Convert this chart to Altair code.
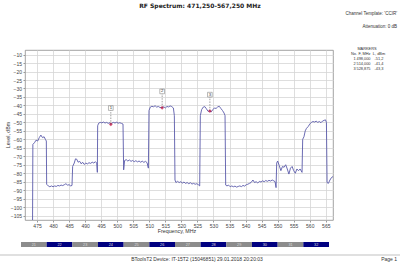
import altair as alt
import pandas as pd

# ---- data ----
freq = [473.6, 473.7, 474.2, 474.7, 475.2, 475.7, 476.2, 476.7, 477.2, 477.6, 477.9,
        478.0, 478.5, 479.0, 479.5, 480.0, 480.5, 481.0, 481.5, 482.0, 482.5, 483.0, 483.5,
        484.0, 484.5, 485.0, 485.5, 485.9,
        486.1, 486.6, 487.0, 487.4, 487.8, 488.3, 488.8, 489.2, 489.7, 490.2, 490.7, 491.2,
        491.7, 492.2, 492.7, 493.2, 493.6, 493.8,
        493.9, 494.2, 494.7, 495.2, 495.7, 496.2, 496.7, 497.2, 497.7, 498.0, 498.3, 498.8,
        499.3, 499.8, 500.3, 500.8, 501.3, 501.8,
        502.0, 502.3, 502.8, 503.3, 503.8, 504.3, 504.8, 505.3, 505.8, 506.3, 506.8, 507.3,
        507.8, 508.3, 508.8, 509.3, 509.7,
        509.9, 510.3, 510.8, 511.3, 511.8, 512.3, 512.8, 513.3, 514.0, 514.5, 515.0, 515.5,
        516.0, 516.5, 517.0, 517.5, 517.8,
        518.0, 518.3, 518.8, 519.3, 519.8, 520.3, 520.8, 521.3, 521.8, 522.3, 522.8, 523.3,
        523.8, 524.3, 524.8, 525.3, 525.7,
        525.9, 526.3, 526.8, 527.3, 527.8, 528.3, 528.875, 529.3, 529.8, 530.3, 530.8, 531.3,
        531.8, 532.3, 532.8, 533.3, 533.6,
        533.8, 534.2, 534.7, 535.2, 535.7, 536.2, 536.7, 537.2, 537.7, 538.2, 538.7, 539.2,
        539.7, 540.2, 540.7, 541.2, 541.7, 542.3, 542.8, 543.3, 543.8, 544.3, 544.8, 545.3,
        545.8, 546.3, 546.8, 547.3, 547.8, 548.3, 548.8, 549.2, 549.5,
        549.7, 550.0, 550.5, 551.0, 551.5, 552.0, 552.5, 553.0, 553.5, 554.0, 554.5, 555.0,
        555.5, 556.0, 556.5, 557.0, 557.6,
        557.8, 558.2, 558.6, 559.0, 559.5, 560.0, 560.5, 561.0, 561.5, 562.0, 562.5, 563.0,
        563.5, 564.0, 564.5, 564.9, 565.2,
        565.4, 565.8, 566.3, 566.8, 567.25]
level = [-110, -63, -62, -60.5, -61, -59, -57.5, -59, -58.5, -60, -61,
         -86.5, -87.5, -88, -87.5, -88, -87.5, -87.8, -87.2, -87.5, -87, -87.3, -86.8,
         -86.2, -87, -86.8, -87.5, -87.2,
         -76, -74, -71.5, -71.8, -73.5, -73, -74.5, -73.5, -74.8, -74, -74.5, -73.8,
         -74.2, -73.5, -74, -73.2, -74, -79.5,
         -52, -50.5, -50, -50.3, -49.8, -50.4, -50, -50.6, -50.2, -51.2, -50.5, -50,
         -50.4, -49.9, -50.5, -50.2, -50.6, -51,
         -78, -72.5, -72, -72.8, -72.2, -73, -72.5, -73.2, -72.6, -73.3, -72.8, -73.5,
         -72.9, -73.6, -73, -73.8, -77,
         -43, -41, -40.5, -40.8, -40.2, -41, -40.6, -41.2, -41.4, -40.8, -41.5, -40.6,
         -40.9, -40.3, -40.7, -41.5, -46,
         -84, -85.5, -84.8, -85.5, -85, -85.8, -85.2, -86, -85.5, -86.2, -85.6, -86.4,
         -86, -86.5, -86.2, -86.8, -87.5,
         -46, -42.5, -41, -40.7, -42, -43.5, -43.3, -43.8, -42.5, -41.5, -41.8, -40.9,
         -40.5, -41.8, -43, -44.5, -46,
         -87, -87.5, -87, -88, -87.5, -88, -87.6, -88.2, -87.8, -87.5, -87.9, -87.2,
         -87.6, -86.8, -86.5, -86, -85.5, -84, -85.5, -85, -85.8, -84.8, -85.2, -84.5,
         -85, -84.3, -84.8, -84.2, -84.6, -84, -84.5, -85, -88.5,
         -74, -72.8, -75.5, -78.5, -76, -76.5, -75, -77.5, -80.5, -77, -76, -78.5,
         -80, -77.5, -78.5, -77.5, -79.5,
         -60, -58.5, -55, -53.5, -52.5, -51, -50, -49.5, -49.8, -49.3, -50, -49.5,
         -50.2, -49.2, -48.8, -48.5, -50,
         -85.5, -86, -84, -82.5, -82]

marker_no = [1, 2, 3]
marker_freq = [498.000, 514.000, 528.875]
marker_level = [-51.2, -41.4, -43.3]

channels = [21, 22, 23, 24, 25, 26, 27, 28, 29, 30, 31, 32]
ch_start = [470, 478, 486, 494, 502, 510, 518, 526, 534, 542, 550, 558]
ch_end = [478, 486, 494, 502, 510, 518, 526, 534, 542, 550, 558, 566]

x_ticks = [475, 480, 485, 490, 495, 500, 505, 510, 515, 520, 525, 530, 535, 540,
           545, 550, 555, 560, 565]
y_ticks = [-10, -15, -20, -25, -30, -35, -40, -45, -50, -55, -60, -65, -70, -75,
           -80, -85, -90, -95, -100, -105]

title_text = "RF Spectrum:  471,250-567,250 MHz"
template_text = "Channel Template: 'CCIR'"
atten_text = "Attenuation: 0 dB"
footer_text = "BToolsT2    Device: IT-15T2 (15046851)    29.01.2018 20:20:03"
page_text = "Page 1"
x_title = "Frequency, MHz"
y_title = "Level, dBm"

FONT = "DejaVu Sans"
SMALL = "Liberation Sans"
W, H = 308, 170

spec = pd.DataFrame({"f": freq, "l": level})
mk = pd.DataFrame({"no": marker_no, "f": marker_freq, "l": marker_level})
mk["fs"] = [f"{v:.3f}".replace(".", ",") for v in marker_freq]
mk["ls"] = [f"{v:.1f}".replace(".", ",") for v in marker_level]
mk["ns"] = [str(n) for n in marker_no]
ch = pd.DataFrame({"ch": channels, "s": ch_start, "e": ch_end})

xs = alt.Scale(domain=[471.25, 567.25], nice=False, zero=False)
ys = alt.Scale(domain=[-107.6, -7.3], nice=False, zero=False)

common = dict(grid=True, gridColor="#d6d6d6", gridWidth=0.8, domain=False,
              tickColor="#999", tickSize=2, labelFontSize=5, labelFont=SMALL,
              labelColor="#444", labelPadding=1.5, labelOverlap=False, labelFlush=False,
              title=None)
xax = alt.Axis(values=x_ticks, tickCount=len(x_ticks), **common)
yax = alt.Axis(values=y_ticks, tickCount=len(y_ticks), **common)

line = alt.Chart(spec).mark_line(color="#5a5aaa", strokeWidth=0.9, clip=True).encode(
    x=alt.X("f:Q", scale=xs, axis=xax),
    y=alt.Y("l:Q", scale=ys, axis=yax),
)

mbase = alt.Chart(mk).transform_calculate(top="datum.l + 8.3")
mrule = mbase.mark_rule(color="#777", strokeDash=[1.5, 1.2], strokeWidth=0.7).encode(
    x="f:Q", y="l:Q", y2="top:Q")
mbox = mbase.mark_point(shape="square", filled=False, stroke="#888", fill=None, size=22,
                        strokeWidth=0.6, opacity=1).encode(
    x="f:Q", y="top:Q", yOffset=alt.value(-2.3))
mlab = mbase.mark_text(font=SMALL, fontSize=4.2, color="#333", baseline="middle").encode(
    x="f:Q", y="top:Q", yOffset=alt.value(-2.3), text="ns:N")
mdot = mbase.mark_point(shape="diamond", filled=True, color="#c4103c", size=14).encode(
    x="f:Q", y="l:Q")

band = alt.Chart(ch).mark_rect().encode(
    x=alt.X("s:Q"), x2="e:Q", y=alt.value(192), y2=alt.value(197),
    color=alt.condition(alt.datum.ch % 2 == 0, alt.value("#000080"), alt.value("#8c8c8c")),
)
band_lab = alt.Chart(ch).transform_calculate(c="(datum.s + datum.e) / 2").mark_text(
    font=SMALL, fontSize=3.8, color="#dddddd", baseline="middle").encode(
    x="c:Q", y=alt.value(194.5), text="ch:N")

def txt(t, x, y, size=5.0, align="center", weight="normal", color="#333", font=SMALL,
        angle=0):
    return alt.Chart(pd.DataFrame({"t": [t]})).mark_text(
        font=font, fontSize=size, align=align, fontWeight=weight, color=color,
        baseline="middle", angle=angle).encode(text="t:N", x=alt.value(x), y=alt.value(y))

title = txt(title_text, 175, -44.5, size=6.0, weight="bold", color="#222", font=FONT)
tmpl = txt(template_text, 372, -36, size=4.5, align="right")
att = txt(atten_text, 372, -23.5, size=4.5, align="right")
xt = txt(x_title, 152, 181, size=5.3)
yt = txt(y_title, -17, 85, size=5.3, angle=270)
mtitle = txt("MARKERS", 342, -1, size=3.9)
mhead_no = txt("No.", 329, 4.3, size=3.9)
mhead_f = txt("F, MHz", 339.5, 4.3, size=3.9)
mhead_l = txt("L, dBm", 354, 4.3, size=3.9)

rows = alt.Chart(mk).transform_calculate(
    yy="9.3 + (datum.no - 1) * 4.7").mark_text(font=SMALL, fontSize=3.9, color="#333",
                                               baseline="middle")
row_no = rows.encode(text="ns:N", x=alt.value(329.5), y=alt.value(0),
                     yOffset=alt.YOffset("yy:Q", scale=None))
row_f = rows.encode(text="fs:N", x=alt.value(338.5), y=alt.value(0),
                    yOffset=alt.YOffset("yy:Q", scale=None))
row_l = rows.encode(text="ls:N", x=alt.value(354), y=alt.value(0),
                    yOffset=alt.YOffset("yy:Q", scale=None))

foot_rule = alt.Chart(pd.DataFrame({"a": [0]})).mark_rule(color="#999", strokeWidth=0.6).encode(
    x=alt.value(-25), x2=alt.value(375), y=alt.value(205))
foot = txt(footer_text, 172, 209, size=5.0)
page = txt(page_text, 372, 209, size=5.0, align="right")

chart = alt.layer(
    line, mrule, mbox, mlab, mdot, band, band_lab,
    title, tmpl, att, xt, yt, mtitle, mhead_no, mhead_f, mhead_l, row_no, row_f, row_l,
    foot_rule, foot, page,
).properties(
    width=W, height=H,
    autosize=alt.AutoSizeParams(type="none"),
    padding={"left": 25, "top": 50, "right": 67, "bottom": 43},
    background="white",
).configure_view(stroke="#8a8a8a", strokeWidth=0.8)

chart.save("out.html", embed_options={"renderer": "svg", "actions": False})
